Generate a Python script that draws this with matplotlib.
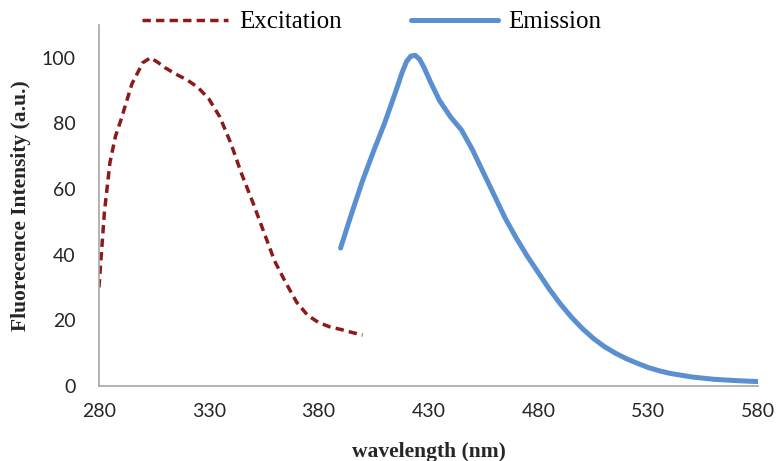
import matplotlib.pyplot as plt

# excitation spectrum
exc_wl = [280, 282.5, 285, 287.5, 290, 295, 300, 303.5, 307, 310, 315, 320, 325,
          330, 335, 340, 345, 350, 355, 360, 365, 370, 375, 380, 385, 390, 395, 400]
exc_int = [30, 53, 68, 76, 81, 92, 98.5, 100, 98.5, 97, 95, 93.3, 91,
           87.5, 82, 74, 64.5, 56, 47, 38, 31.5, 25.5, 21.5, 19.3, 18, 17.2, 16.3, 15.5]

# emission spectrum
em_wl = [390, 395, 400, 405, 410, 415, 418, 420, 422, 424, 426, 428, 431, 435,
         440, 445, 450, 455, 460, 465, 470, 475, 480, 485, 490, 495, 500, 505,
         510, 515, 520, 525, 530, 535, 540, 550, 560, 570, 580]
em_int = [42, 52.5, 62.5, 71.5, 80, 89.5, 95.5, 98.8, 100.5, 100.7, 99.5, 97, 92.5, 87,
          82, 78, 72, 65, 58, 51, 45, 39.5, 34.5, 29.5, 25, 21, 17.5, 14.5,
          12, 10, 8.3, 6.9, 5.6, 4.6, 3.8, 2.7, 2, 1.6, 1.3]

xticks = [280, 330, 380, 430, 480, 530, 580]
yticks = [0, 20, 40, 60, 80, 100]

fig = plt.figure(figsize=(7.79, 4.61), dpi=100)
ax = fig.add_axes([0.127, 0.163, 0.846, 0.783])

ax.plot(exc_wl, exc_int, color='#8B1A1A', lw=2.5, dashes=(2.4, 1.5),
        solid_capstyle='butt', label='Excitation')
ax.plot(em_wl, em_int, color='#5A8FD0', lw=3.6, solid_capstyle='round',
        solid_joinstyle='round', label='Emission')

ax.set_xlim(280, 580)
ax.set_ylim(0, 110)
ax.set_xticks(xticks)
ax.set_yticks(yticks)
ax.tick_params(length=0, labelsize=14, labelcolor='#262626')
ax.tick_params(axis='x', pad=12)
ax.tick_params(axis='y', pad=17)
for lab in ax.get_xticklabels() + ax.get_yticklabels():
    lab.set_fontfamily('Lato')

for s in ['top', 'right']:
    ax.spines[s].set_visible(False)
for s in ['left', 'bottom']:
    ax.spines[s].set_color('#A6A6A6')
    ax.spines[s].set_linewidth(1.2)

ax.set_xlabel('wavelength (nm)', family='Liberation Serif', fontweight='bold',
              fontsize=15.5, color='#262626')
ax.set_ylabel('Fluorecence Intensity (a.u.)', family='Liberation Serif',
              fontweight='bold', fontsize=15.5, color='#262626')
ax.xaxis.set_label_coords(0.5, -0.155)
ax.yaxis.set_label_coords(-0.103, 0.5)

fig.legend(loc='center', bbox_to_anchor=(0.477, 0.952), ncol=2, frameon=False,
           prop={'family': 'Liberation Serif', 'size': 18},
           handlelength=3.45, handletextpad=0.42, columnspacing=2.8)

fig.savefig('out.png', dpi=100)
